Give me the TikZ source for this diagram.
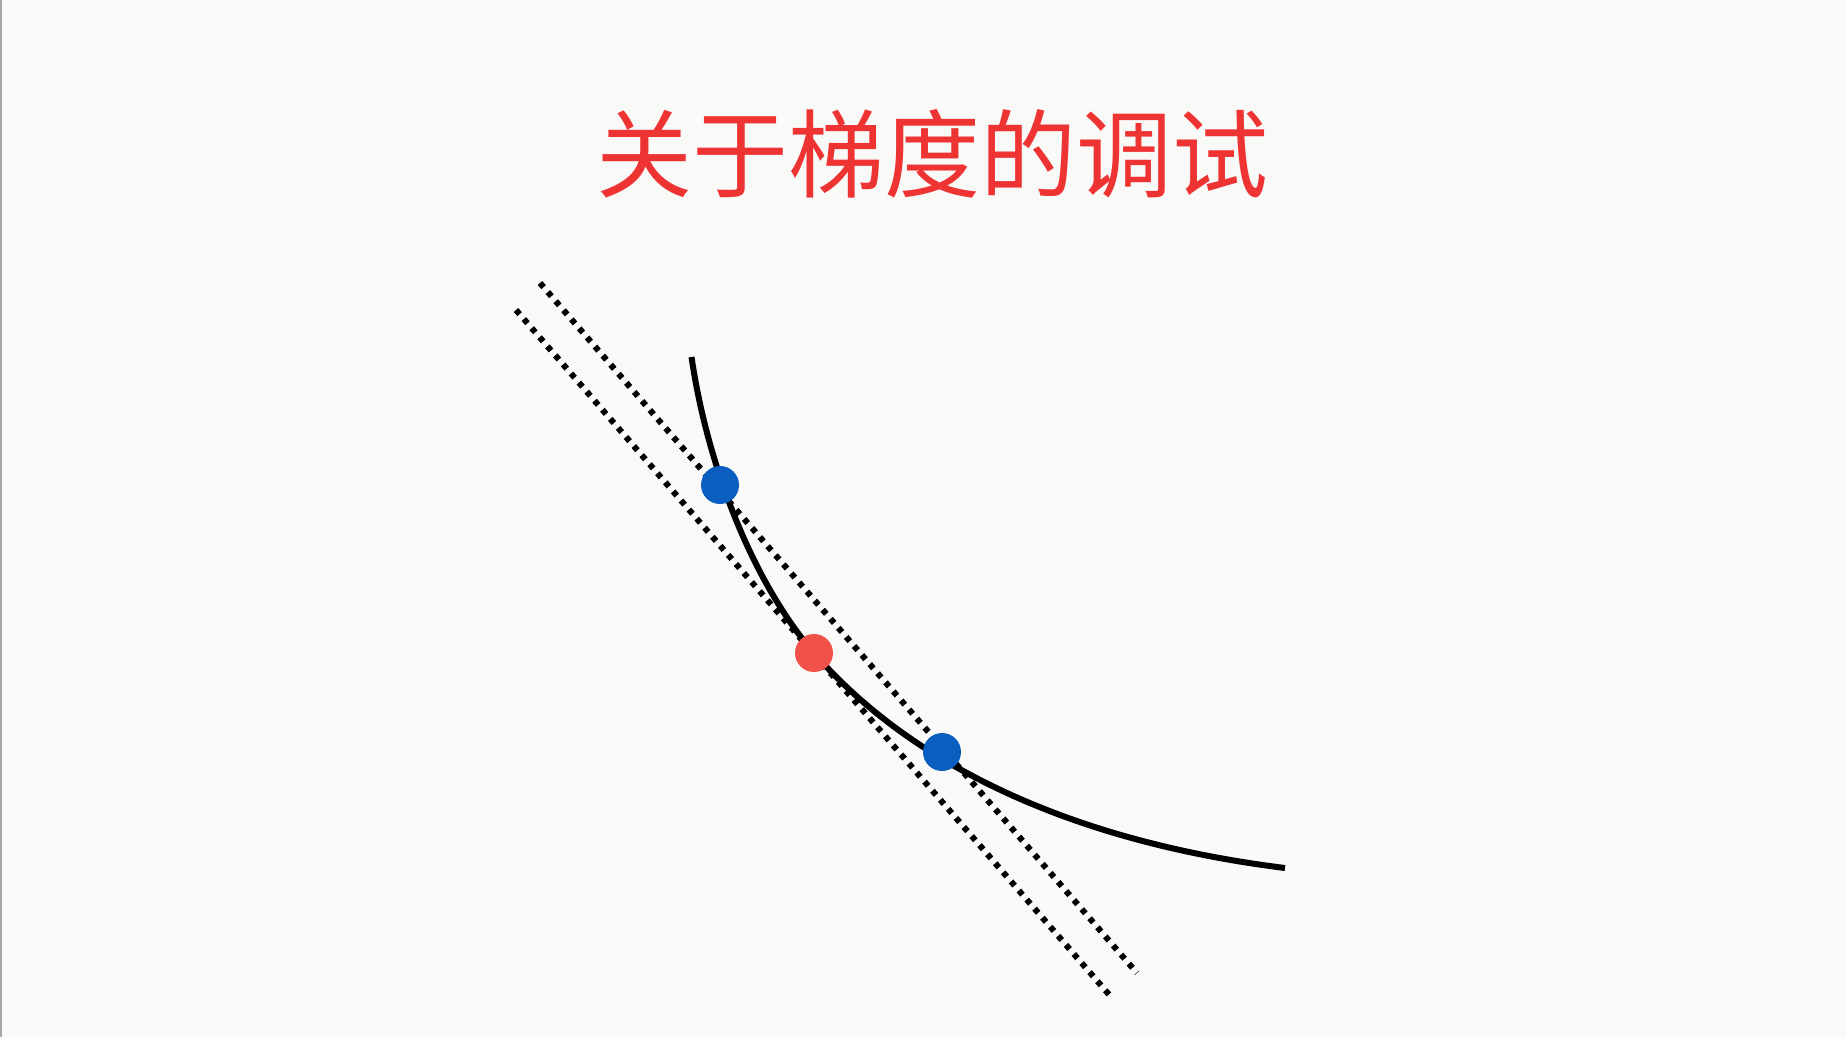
\documentclass[tikz,border=0pt]{standalone}
\usepackage{fontspec}
\newfontfamily\cjk{Noto Sans CJK SC}
\definecolor{bg}{HTML}{F9F9F8}
\definecolor{titlered}{HTML}{EE3333}
\definecolor{dotblue}{HTML}{0A5EC0}
\definecolor{dotred}{HTML}{F0524A}
\tikzset{
  curveline/.style={line width=6pt, black},
  secant/.style={line width=6pt, black, dash pattern=on 5.5pt off 6.5pt},
  bluedot/.style={circle, fill=dotblue, minimum size=38pt, inner sep=0pt},
  reddot/.style={circle, fill=dotred, minimum size=38pt, inner sep=0pt},
  titletext/.style={text=titlered, font=\cjk\fontsize{96pt}{100pt}\selectfont, inner sep=0pt, anchor=base}
}
\begin{document}
\begin{tikzpicture}[x=1pt,y=-1pt]
\useasboundingbox (0,0) rectangle (1846,1037);
\fill[bg] (0,0) rectangle (1846,1037);
\draw[line width=2pt, gray!70] (1,0) -- (1,1037);
\node[titletext] (title) at (932,190) {关于梯度的调试};
% secant and tangent lines
\coordinate (s1) at (540,283);
\coordinate (s2) at (1137,973);
\coordinate (t1) at (516,310);
\coordinate (t2) at (1112,998);
\draw[secant] (s1) -- (s2);
\draw[secant] (t1) -- (t2);
% curve
\coordinate (c0) at (691.5,357);
\coordinate (cm) at (814,653);
\coordinate (c1) at (1285,868);
\draw[curveline] (c0) .. controls (708,470) and (755,585) .. (cm)
                      .. controls (905,758) and (1060,840) .. (c1);
\node[bluedot] (b1) at (720,485) {};
\node[reddot] (r) at (814,653) {};
\node[bluedot] (b2) at (942,752) {};
\end{tikzpicture}
\end{document}
